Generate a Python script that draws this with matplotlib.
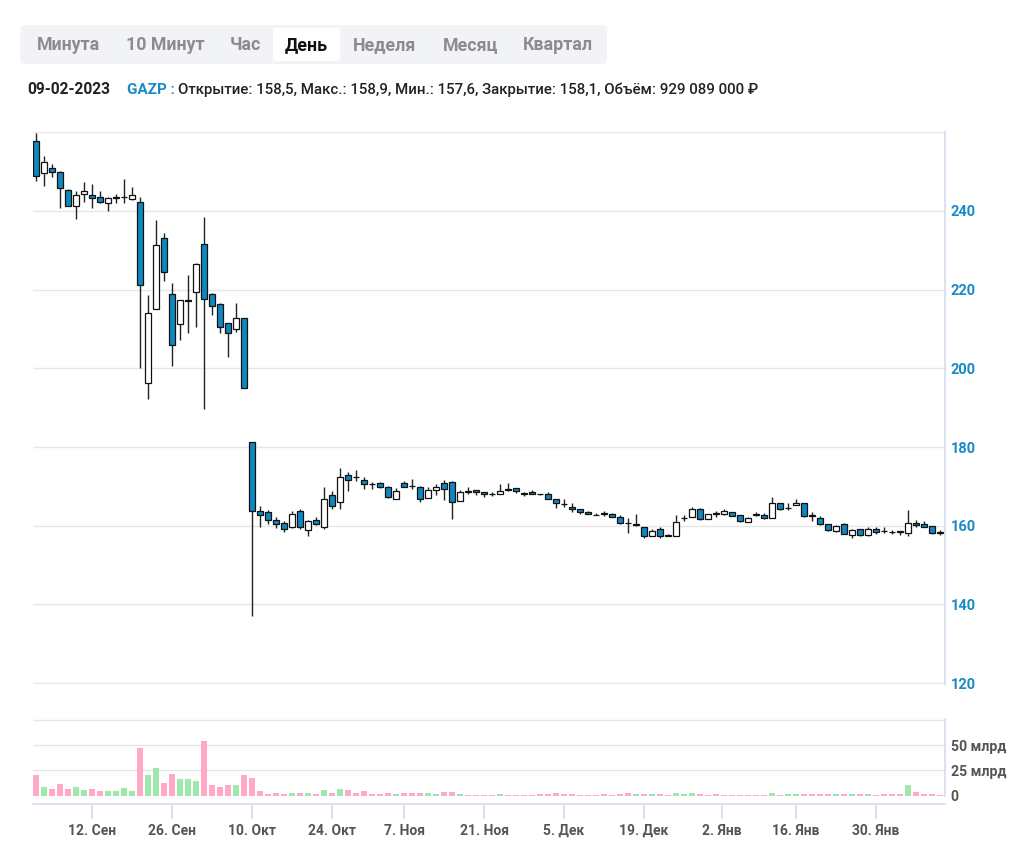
import numpy as np
import pandas as pd
import matplotlib
matplotlib.use("Agg")
import matplotlib.pyplot as plt
from matplotlib.patches import FancyBboxPatch

plt.rcParams['font.family'] = ['Roboto', 'DejaVu Sans']

# ---------------- data ----------------
tabs = ["Минута", "10 Минут", "Час", "День", "Неделя", "Месяц", "Квартал"]
active_tab = "День"

ticker = "GAZP"
info_date = "09-02-2023"
info_text = "Открытие: 158,5, Макс.: 158,9, Мин.: 157,6, Закрытие: 158,1, Объём: 929 089 000 ₽"

holidays = ["2022-11-04", "2023-01-02"]
dates = pd.bdate_range("2022-09-01", "2023-02-09")
dates = dates[~dates.isin(pd.to_datetime(holidays))]

opens = [257.7, 249.5, 250.8, 249.9, 245.4, 241.3, 244.2, 243.9, 243.6, 241.9,
         243.3, 243.4, 242.9, 242.3, 196.2, 215.0, 233.1, 218.9, 211.3, 217.0,
         219.4, 231.5, 218.8, 216.3, 211.4, 209.9, 212.7, 181.3, 163.7, 163.6,
         161.5, 160.7, 159.8, 163.8, 158.9, 161.5, 159.8, 167.8, 166.0, 173.0,
         172.3, 171.7, 170.6, 170.8, 169.8, 166.8, 170.9, 170.1, 169.8, 167.1,
         169.1, 170.9, 171.1, 166.2, 168.8, 169.1, 168.6, 168.0, 168.0, 169.3,
         169.6, 168.1, 168.6, 168.0, 168.0, 166.9, 165.5, 164.8, 164.2, 163.6,
         162.75, 163.1, 163.1, 162.3, 160.65, 160.25, 159.6, 157.5, 159.3, 157.55,
         157.5, 161.85, 162.1, 164.2, 161.6, 163.0, 162.9, 163.6, 162.7, 160.9,
         162.8, 162.8, 161.9, 165.8, 164.55, 165.3, 165.8, 162.55, 161.9, 160.5,
         158.6, 160.5, 157.6, 159.2, 157.6, 159.2, 158.65, 158.45, 158.5, 158.1,
         160.8, 160.5, 160.0, 158.5]
highs = [259.7, 253.8, 251.8, 250.1, 245.5, 245.1, 247.2, 246.7, 245.1, 243.4,
         244.2, 248.0, 246.0, 243.4, 218.6, 237.6, 234.4, 221.7, 217.3, 223.7,
         226.8, 238.5, 219.0, 216.7, 211.6, 216.7, 212.7, 181.3, 165.1, 164.0,
         162.2, 161.1, 163.7, 164.3, 161.5, 162.3, 169.8, 168.8, 174.7, 173.6,
         174.1, 172.4, 171.2, 171.1, 170.2, 169.6, 171.3, 171.9, 170.1, 169.8,
         170.7, 171.7, 171.3, 169.0, 169.8, 169.2, 168.6, 168.5, 170.6, 170.9,
         169.6, 168.6, 169.1, 168.0, 168.5, 166.9, 166.9, 165.7, 164.2, 163.8,
         163.3, 163.8, 163.3, 162.7, 161.9, 163.1, 159.7, 159.3, 159.7, 157.8,
         162.7, 162.7, 164.8, 164.4, 163.1, 163.8, 164.2, 163.6, 162.8, 162.3,
         163.6, 163.2, 167.2, 165.9, 165.8, 166.8, 165.9, 163.4, 162.4, 160.5,
         160.3, 160.8, 159.3, 159.3, 159.8, 159.8, 159.8, 159.0, 158.6, 163.9,
         161.5, 161.1, 160.0, 158.9]
lows = [247.6, 246.3, 248.6, 240.8, 241.2, 237.8, 242.2, 240.8, 241.9, 240.0,
        241.9, 241.9, 242.8, 200.0, 192.2, 215.0, 222.2, 200.6, 207.2, 208.9,
        210.4, 189.6, 213.5, 208.9, 202.8, 209.2, 195.1, 137.1, 159.8, 160.5,
        159.5, 158.5, 159.5, 159.2, 157.5, 160.2, 159.2, 164.3, 164.3, 168.8,
        171.3, 169.4, 169.4, 169.7, 167.1, 166.8, 169.8, 169.4, 166.0, 167.1,
        167.7, 166.6, 161.7, 166.2, 168.1, 167.7, 167.4, 167.5, 168.0, 168.9,
        168.2, 167.5, 168.1, 167.9, 166.7, 164.4, 164.8, 163.6, 163.0, 163.0,
        162.7, 162.5, 162.2, 160.4, 158.1, 160.0, 157.0, 157.5, 156.8, 157.3,
        157.4, 161.3, 162.1, 161.4, 161.6, 162.1, 162.7, 162.4, 160.9, 160.9,
        162.4, 161.7, 161.9, 164.0, 164.1, 165.3, 162.3, 161.1, 160.3, 158.6,
        158.4, 158.0, 156.9, 157.5, 157.3, 158.0, 158.1, 158.0, 157.7, 157.5,
        159.8, 159.7, 158.0, 157.6]
closes = [248.9, 252.4, 249.9, 245.7, 241.3, 243.9, 245.1, 243.2, 242.3, 243.3,
          243.5, 243.5, 243.9, 221.2, 214.1, 231.2, 224.5, 205.8, 217.3, 217.3,
          226.5, 217.5, 215.7, 210.6, 208.9, 212.8, 195.1, 163.8, 162.8, 161.5,
          160.5, 159.2, 163.0, 159.8, 161.2, 160.5, 166.8, 165.1, 172.4, 171.7,
          172.4, 170.5, 170.5, 169.8, 167.4, 168.8, 169.8, 170.0, 166.8, 169.0,
          169.8, 169.4, 166.0, 168.7, 168.7, 168.5, 168.1, 168.0, 168.9, 169.2,
          168.9, 168.1, 168.1, 167.95, 166.9, 165.7, 165.4, 164.2, 163.6, 163.0,
          162.7, 163.1, 162.3, 160.6, 160.6, 160.2, 157.4, 158.7, 157.4, 157.5,
          161.0, 161.9, 164.2, 161.6, 163.0, 163.05, 163.8, 162.6, 161.1, 161.9,
          162.8, 161.9, 165.9, 164.2, 164.5, 165.9, 162.4, 162.5, 160.5, 158.8,
          160.0, 158.0, 159.0, 157.6, 159.2, 158.3, 158.6, 158.4, 158.55, 160.7,
          160.3, 159.7, 158.1, 158.1]

# volume in billions of roubles, and colour flag (1 = up/green, 0 = down/pink)
volumes = [20.2, 8.9, 6.3, 11.3, 6.3, 8.9, 5.3, 6.3, 4.3, 4.3,
           4.3, 7.6, 4.3, 47.3, 20.2, 27.5, 12.9, 21.2, 16.2, 16.2,
           14.2, 54.0, 10.3, 8.9, 10.3, 10.3, 20.2, 17.9, 4.3, 1.3,
           2.6, 1.3, 2.6, 2.6, 2.6, 1.3, 5.3, 2.6, 6.3, 5.3,
           2.6, 4.3, 1.3, 1.3, 2.6, 1.3, 2.6, 2.6, 2.6, 2.6,
           1.3, 4.0, 4.0, 1.3, 0.2, 0.2, 0.2, 0.2, 1.3, 0.2,
           0.2, 0.2, 0.2, 1.3, 1.3, 2.7, 1.3, 1.3, 0.2, 0.2,
           0.2, 1.3, 0.2, 1.3, 2.7, 1.3, 1.3, 1.3, 1.3, 0.2,
           2.7, 1.3, 2.7, 1.3, 0.2, 1.3, 0.2, 0.2, 0.2, 0.2,
           0.2, 0.2, 2.7, 0.2, 1.3, 1.3, 1.3, 1.3, 1.3, 1.3,
           1.3, 1.3, 1.3, 1.3, 1.3, 0.2, 1.3, 1.3, 1.3, 10.3,
           4.0, 1.3, 1.3, 0.93]
vol_up = [0, 1, 0, 0, 0, 1, 1, 0, 0, 1,
          1, 1, 1, 0, 1, 1, 0, 0, 1, 1,
          1, 0, 0, 0, 0, 1, 0, 0, 0, 0,
          0, 0, 1, 0, 1, 0, 1, 0, 1, 0,
          0, 0, 0, 0, 0, 1, 0, 0, 0, 1,
          1, 0, 0, 1, 0, 0, 0, 0, 1, 0,
          0, 0, 0, 0, 0, 0, 0, 0, 0, 0,
          0, 0, 0, 0, 0, 1, 0, 1, 0, 0,
          1, 1, 1, 0, 0, 0, 0, 0, 0, 0,
          0, 0, 1, 0, 1, 1, 0, 0, 0, 0,
          1, 0, 1, 0, 1, 0, 0, 0, 0, 1,
          0, 0, 0, 0]

xtick_dates = ["2022-09-12", "2022-09-26", "2022-10-10", "2022-10-24", "2022-11-07",
               "2022-11-21", "2022-12-05", "2022-12-19", "2023-01-02", "2023-01-16",
               "2023-01-30"]
xtick_labels = ["12. Сен", "26. Сен", "10. Окт", "24. Окт", "7. Ноя", "21. Ноя",
                "5. Дек", "19. Дек", "2. Янв", "16. Янв", "30. Янв"]

price_ticks = [120, 140, 160, 180, 200, 220, 240, 260]
vol_ticks = [0, 25, 50, 75]
vol_tick_labels = ["0", "25 млрд", "50 млрд", ""]

# ---------------- styling ----------------
W, H = 1026, 866
BLUE = "#0d88c1"
LABEL_BLUE = "#1a8ac6"
PINK = "#ffa9c6"
GREEN = "#9ee8ad"
GRID = "#e6e6e6"
AXLINE = "#d6dbee"

fig = plt.figure(figsize=(W / 100, H / 100), dpi=100)
fig.patch.set_facecolor("white")


def frect(x0, y0, x1, y1):
    return [x0 / W, 1 - y1 / H, (x1 - x0) / W, (y1 - y0) / H]


# tabs bar
bar = FancyBboxPatch((20 / W, 1 - 64 / H), 587 / W, 39 / H,
                     boxstyle="round,pad=0,rounding_size=0.006",
                     transform=fig.transFigure, facecolor="#f2f3f7",
                     edgecolor="none", mutation_aspect=W / H)
fig.add_artist(bar)
sel = FancyBboxPatch((273 / W, 1 - 61 / H), 67 / W, 33 / H,
                     boxstyle="round,pad=0,rounding_size=0.003",
                     transform=fig.transFigure, facecolor="white",
                     edgecolor="none", mutation_aspect=W / H)
fig.add_artist(sel)
tab_x = [68, 165, 245, 306, 385, 471, 558]
for name, tx in zip(tabs, tab_x):
    fig.text(tx / W, 1 - 45 / H, name, ha="center", va="center",
             fontsize=12.8, fontweight="bold",
             color="#111111" if name == active_tab else "#8c8c8c")

# info line
fig.text(27 / W, 1 - 90 / H, info_date, ha="left", va="center",
         fontsize=11.2, fontweight="bold", color="#222222")
fig.text(127 / W, 1 - 90 / H, ticker + " :", ha="left", va="center",
         fontsize=11, fontweight="bold", color=LABEL_BLUE)
fig.text(178 / W, 1 - 90 / H, info_text, ha="left", va="center",
         fontsize=10.8, fontweight="medium", color="#222222")

x = np.arange(len(dates))
o = np.array(opens)
c = np.array(closes)
hi = np.array(highs)
lo = np.array(lows)

# ---------------- price pane ----------------
ax = fig.add_axes(frect(33, 131.5, 945, 684))
ax.set_xlim(-0.375, len(dates) - 0.375)
ax.set_ylim(119.8, 260.15)
ax.vlines(x, lo, hi, color="#222222", linewidth=1.0, zorder=2)
up = c >= o
body_bottom = np.minimum(o, c)
body_h = np.maximum(np.abs(c - o), 0.12)
ax.bar(x, body_h, bottom=body_bottom, width=0.72,
       color=np.where(up, "white", BLUE), edgecolor="#111111",
       linewidth=0.9, zorder=3)
ax.set_yticks(price_ticks)
ax.set_yticklabels([str(t) if t != 260 else "" for t in price_ticks])
ax.yaxis.tick_right()
ax.tick_params(axis="y", length=0, pad=4, labelsize=10.5, labelcolor=LABEL_BLUE)
for lab in ax.get_yticklabels():
    lab.set_fontweight("bold")
ax.set_xticks([])
ax.grid(axis="y", color=GRID, linewidth=1.0)
ax.set_axisbelow(True)
for s in ["left", "top", "bottom"]:
    ax.spines[s].set_visible(False)
ax.spines["right"].set_color(AXLINE)
ax.spines["right"].set_linewidth(1.2)

# ---------------- volume pane ----------------
vx = fig.add_axes(frect(33, 718.5, 945, 796))
vx.set_xlim(-0.375, len(dates) - 0.375)
vx.set_ylim(-0.3, 76.5)
vx.bar(x, volumes, width=0.72,
       color=[GREEN if u else PINK for u in vol_up], edgecolor="none", zorder=3)
vx.set_yticks(vol_ticks)
vx.set_yticklabels(vol_tick_labels)
vx.yaxis.tick_right()
vx.tick_params(axis="y", length=0, pad=4, labelsize=10.2, labelcolor="#555555")
for lab in vx.get_yticklabels():
    lab.set_fontweight("bold")
vx.grid(axis="y", color=GRID, linewidth=1.0)
vx.set_axisbelow(True)
for s in ["left", "top"]:
    vx.spines[s].set_visible(False)
vx.spines["right"].set_color(AXLINE)
vx.spines["right"].set_linewidth(1.2)
vx.spines["bottom"].set_position(("outward", 6))
vx.spines["bottom"].set_color(AXLINE)
vx.spines["bottom"].set_linewidth(1.2)

ords = np.array([d.toordinal() for d in dates])
tick_pos = [np.interp(pd.Timestamp(d).toordinal(), ords, x) for d in xtick_dates]
vx.set_xticks(tick_pos)
vx.set_xticklabels(xtick_labels)
vx.tick_params(axis="x", length=11, width=1.2, color=AXLINE, pad=3,
               labelsize=10, labelcolor="#555555")
for lab in vx.get_xticklabels():
    lab.set_fontweight("bold")

fig.savefig("out.png", dpi=100, facecolor="white")
